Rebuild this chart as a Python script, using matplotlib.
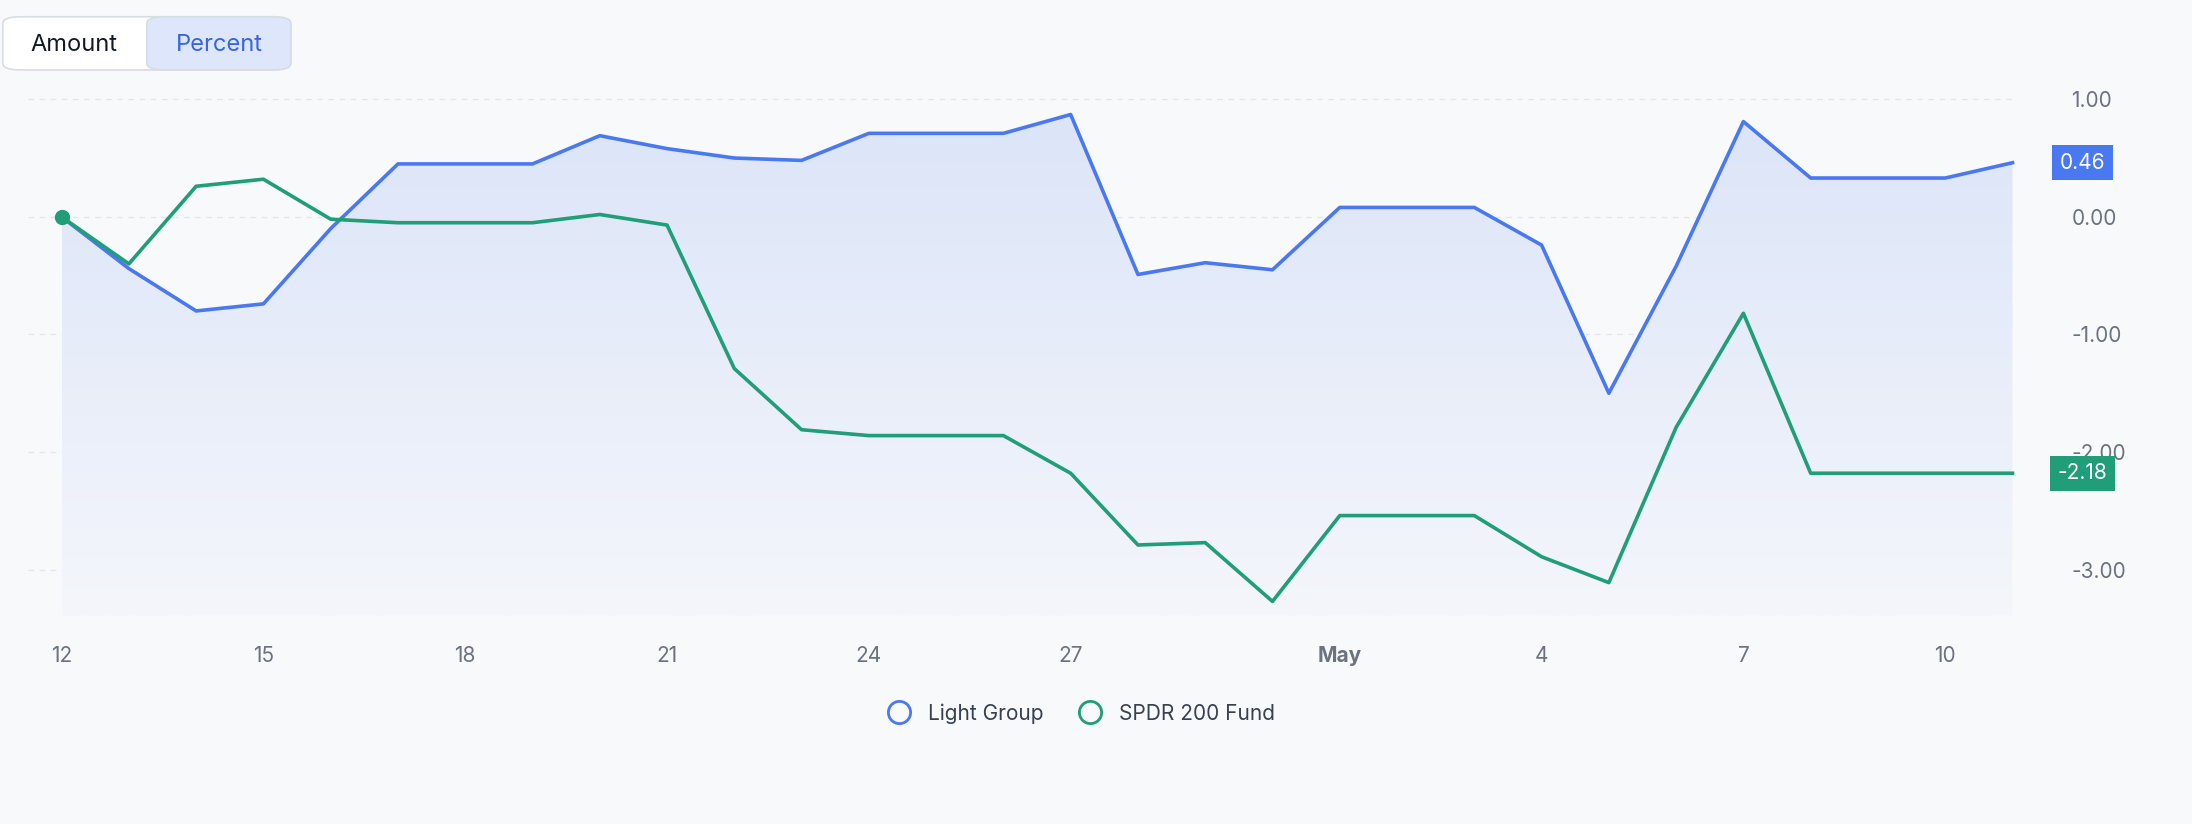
import matplotlib.pyplot as plt
import numpy as np
from matplotlib.patches import FancyBboxPatch
from matplotlib.lines import Line2D
from matplotlib.colors import LinearSegmentedColormap

plt.rcParams['font.family'] = ['Inter', 'DejaVu Sans']

days = list(range(30))
tick_pos = [0, 3, 6, 9, 12, 15, 19, 22, 25, 28]
tick_labels = ["12", "15", "18", "21", "24", "27", "May", "4", "7", "10"]
light_group = [0, -0.44, -0.80, -0.74, -0.10, 0.45, 0.45, 0.45, 0.69, 0.58,
               0.50, 0.48, 0.71, 0.71, 0.71, 0.87, -0.49, -0.39, -0.45, 0.08,
               0.08, 0.08, -0.24, -1.50, -0.42, 0.81, 0.33, 0.33, 0.33, 0.46]
spdr = [0, -0.40, 0.26, 0.32, -0.02, -0.05, -0.05, -0.05, 0.02, -0.07,
        -1.29, -1.81, -1.86, -1.86, -1.86, -2.18, -2.79, -2.77, -3.27, -2.54,
        -2.54, -2.54, -2.89, -3.11, -1.79, -0.82, -2.18, -2.18, -2.18, -2.18]
yticks = [1, 0, -1, -2, -3]

BLUE = "#4a78f0"
GREEN = "#1f9e78"
BG = "#f8f9fb"

W, H = 1568, 589
fig = plt.figure(figsize=(21.92, 8.24), dpi=100, facecolor=BG)
ax = fig.add_axes([20 / W, 1 - 440 / H, (1442 - 20) / W, 380 / H])
ax.set_facecolor(BG)
ylo, yhi = -3.39, 1.13
ax.set_ylim(ylo, yhi)
ax.set_xlim(-0.5, 29.05)

# gradient fill under blue line
grad = np.linspace(0, 1, 256).reshape(-1, 1)
cmap = LinearSegmentedColormap.from_list("g", ["#f4f6fb", "#dbe4f8"])
poly = ax.fill_between(days, light_group, ylo, color="none")
im = ax.imshow(grad, extent=[0, 29, ylo, 1.0], origin="lower", cmap=cmap,
               aspect="auto", zorder=1)
im.set_clip_path(poly.get_paths()[0], transform=ax.transData)

for y in yticks:
    ax.axhline(y, color="#e3e6ec", lw=1, ls=(0, (4, 4)), zorder=0)

ax.plot(days, light_group, color=BLUE, lw=2.6, zorder=3)
ax.plot(days, spdr, color=GREEN, lw=2.6, zorder=3)
ax.plot([0], [0], "o", color=GREEN, ms=10, zorder=4)

for s in ax.spines.values():
    s.set_visible(False)
ax.yaxis.tick_right()
ax.set_yticks(yticks)
ax.set_yticklabels([f"{v:.2f}" for v in yticks], fontsize=15, color="#6b7280")
ax.tick_params(axis="y", length=0, pad=40)
ax.set_xticks(tick_pos)
ax.set_xticklabels(tick_labels, fontsize=15, color="#6b7280")
ax.tick_params(axis="x", length=0, pad=22)
ax.get_xticklabels()[6].set_fontweight("bold")

# value badges
for val, col in [(light_group[-1], BLUE), (spdr[-1], GREEN)]:
    ax.annotate(f"{val:.2f}", xy=(1.0, val), xycoords=("axes fraction", "data"),
                xytext=(48, 0), textcoords="offset points", fontsize=15,
                color="white", ha="center", va="center", zorder=5,
                bbox=dict(boxstyle="square,pad=0.35", fc=col, ec="none"),
                annotation_clip=False)

# toggle buttons
fig.patches.append(FancyBboxPatch((2 / W, 1 - 50 / H), 206 / W, 38 / H,
                                  boxstyle="round,pad=0,rounding_size=0.008",
                                  transform=fig.transFigure, fc="white",
                                  ec="#d8dce3", lw=1.2))
fig.patches.append(FancyBboxPatch((105 / W, 1 - 50 / H), 103 / W, 38 / H,
                                  boxstyle="round,pad=0,rounding_size=0.008",
                                  transform=fig.transFigure, fc="#dde6fa",
                                  ec="#d8dce3", lw=1.2))
fig.text(53 / W, 1 - 32 / H, "Amount", fontsize=17, color="#111827",
         ha="center", va="center")
fig.text(157 / W, 1 - 32 / H, "Percent", fontsize=17, color="#3563e9",
         ha="center", va="center")

handles = [Line2D([], [], ls="none", marker="o", ms=16, mfc="none", mec=BLUE, mew=2),
           Line2D([], [], ls="none", marker="o", ms=16, mfc="none", mec=GREEN, mew=2)]
fig.legend(handles, ["Light Group", "SPDR 200 Fund"], loc="center",
           bbox_to_anchor=(770 / W, 1 - 510 / H), ncol=2, frameon=False,
           fontsize=15, labelcolor="#374151", handletextpad=0.4, columnspacing=1.2)

fig.savefig("out.png", dpi=100, facecolor=BG)
